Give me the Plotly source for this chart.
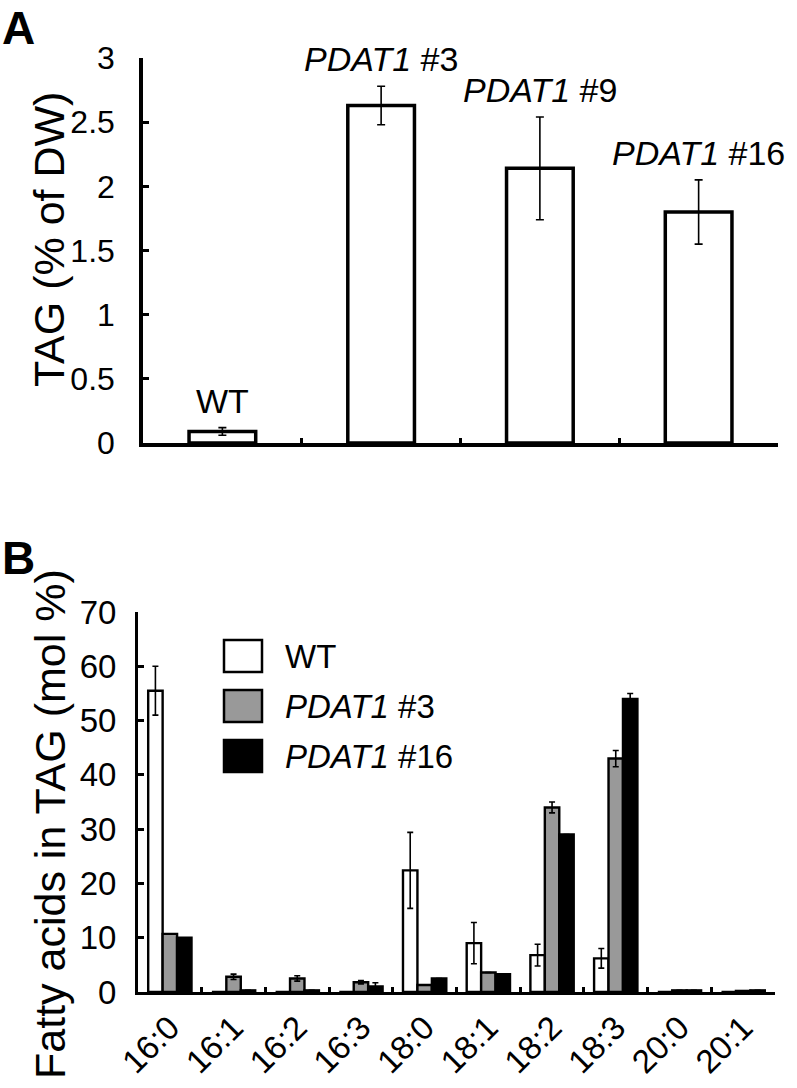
import plotly.graph_objects as go

W, H = 797, 1088
FONT = "Arial, Liberation Sans, sans-serif"

# ---- panel A: TAG content
lines_a = ["WT", "PDAT1 #3", "PDAT1 #9", "PDAT1 #16"]
labels_a = ["WT", "<i>PDAT1</i> #3", "<i>PDAT1</i> #9", "<i>PDAT1</i> #16"]
tag_mean = [0.09, 2.63, 2.14, 1.80]
tag_err = [0.03, 0.15, 0.40, 0.25]

# ---- panel B: fatty acid composition of TAG
fatty_acids = ["16:0", "16:1", "16:2", "16:3", "18:0", "18:1", "18:2", "18:3", "20:0", "20:1"]
series_b = ["WT", "<i>PDAT1</i> #3", "<i>PDAT1</i> #16"]
wt_mol = [55.5, 0, 0, 0, 22.4, 9.0, 6.8, 6.2, 0, 0]
wt_err = [4.5, 0, 0, 0, 7.0, 3.8, 2.0, 1.8, 0, 0]
p3_mol = [10.7, 2.8, 2.5, 1.8, 1.3, 3.6, 34.0, 43.0, 0.3, 0.2]
p3_err = [0, 0.5, 0.5, 0.3, 0, 0, 1.0, 1.5, 0, 0]
p16_mol = [10.0, 0.3, 0.3, 1.0, 2.5, 3.3, 29.0, 54.0, 0.3, 0.3]
p16_err = [0, 0, 0, 0.7, 0, 0, 0, 1.0, 0, 0]
fills_b = ["white", "#999999", "black"]


def px_x(p):
    return p / W


def px_y(p):
    return (H - p) / H


fig = go.Figure()

fig.add_trace(go.Bar(
    x=lines_a, y=tag_mean, width=0.42,
    error_y=dict(type="data", array=tag_err, color="black", thickness=1.6, width=4),
    marker=dict(color="white", line=dict(color="black", width=3.5)),
    xaxis="x", yaxis="y", showlegend=False,
))

for name, vals, errs, fill in zip(series_b, [wt_mol, p3_mol, p16_mol],
                                  [wt_err, p3_err, p16_err], fills_b):
    fig.add_trace(go.Bar(
        x=fatty_acids, y=vals, name=name,
        error_y=dict(type="data", array=errs, color="black", thickness=1.6, width=3),
        marker=dict(color=fill, line=dict(color="black", width=2.4)),
        xaxis="x2", yaxis="y2", showlegend=False,
    ))

axis_common = dict(
    showline=True, linecolor="black", showgrid=False, zeroline=False,
    ticks="inside", tickcolor="black", automargin=False,
)

annotations = []
# bar labels in panel A
for name, lab, m, e in zip(lines_a, labels_a, tag_mean, tag_err):
    annotations.append(dict(
        x=name, y=m + e, xref="x", yref="y", text=lab, showarrow=False,
        yanchor="bottom", yshift=6, font=dict(size=34, color="black", family=FONT),
    ))

# manual legend for panel B
for i, (name, fill) in enumerate(zip(series_b, fills_b)):
    top = 640 + i * 50
    fig.add_shape(type="rect", xref="paper", yref="paper",
                  x0=px_x(224), x1=px_x(262), y0=px_y(top), y1=px_y(top + 32),
                  fillcolor=fill, line=dict(color="black", width=2.5))
    annotations.append(dict(
        x=px_x(283), y=px_y(top + 16), xref="paper", yref="paper", text=name,
        showarrow=False, xanchor="left", yanchor="middle",
        font=dict(size=33, color="black", family=FONT),
    ))

# axis titles and panel letters
annotations += [
    dict(x=px_x(49), y=px_y(240), xref="paper", yref="paper", text="TAG (% of DW)",
         textangle=-90, showarrow=False, xanchor="center", yanchor="middle",
         font=dict(size=43, color="black", family=FONT)),
    dict(x=px_x(50), y=px_y(824), xref="paper", yref="paper",
         text="Fatty acids in TAG (mol %)",
         textangle=-90, showarrow=False, xanchor="center", yanchor="middle",
         font=dict(size=43, color="black", family=FONT)),
    dict(x=0.0, y=1.0, xref="paper", yref="paper", text="<b>A</b>",
         showarrow=False, xanchor="left", yanchor="top",
         font=dict(size=46, color="black", family=FONT)),
    dict(x=0.0, y=px_y(530), xref="paper", yref="paper", text="<b>B</b>",
         showarrow=False, xanchor="left", yanchor="top",
         font=dict(size=46, color="black", family=FONT)),
]

fig.update_layout(
    template="none",
    width=W, height=H,
    margin=dict(l=0, r=0, t=0, b=0, pad=0),
    paper_bgcolor="white", plot_bgcolor="white",
    font=dict(family=FONT, color="black"),
    barmode="group", bargap=0.32, bargroupgap=0,
    xaxis=dict(domain=[px_x(143), px_x(778)], range=[-0.5, 3.5], anchor="y",
               linewidth=3.5, tickson="boundaries", ticklen=5, tickwidth=3,
               showticklabels=False, **axis_common),
    yaxis=dict(domain=[px_y(443), px_y(58)], range=[0, 3], dtick=0.5, anchor="x",
               linewidth=3.5, ticklen=6, tickwidth=3, ticklabelstandoff=18,
               tickfont=dict(size=32, family=FONT), **axis_common),
    xaxis2=dict(domain=[px_x(138), px_x(775)], range=[-0.5, 9.5], anchor="y2",
                linewidth=3, tickson="boundaries", ticklen=5, tickwidth=3,
                tickangle=-45, tickfont=dict(size=33, family=FONT), **axis_common),
    yaxis2=dict(domain=[px_y(992), px_y(612)], range=[0, 70], dtick=10, anchor="x2",
                linewidth=3, ticklen=6, tickwidth=3, ticklabelstandoff=12,
                tickfont=dict(size=33, family=FONT), **axis_common),
    annotations=annotations,
)

# drop the default page margin so the figure sits at the window's corner
fig.write_html("out.html", config={"displayModeBar": False},
               post_script="document.body.style.margin='0';")
